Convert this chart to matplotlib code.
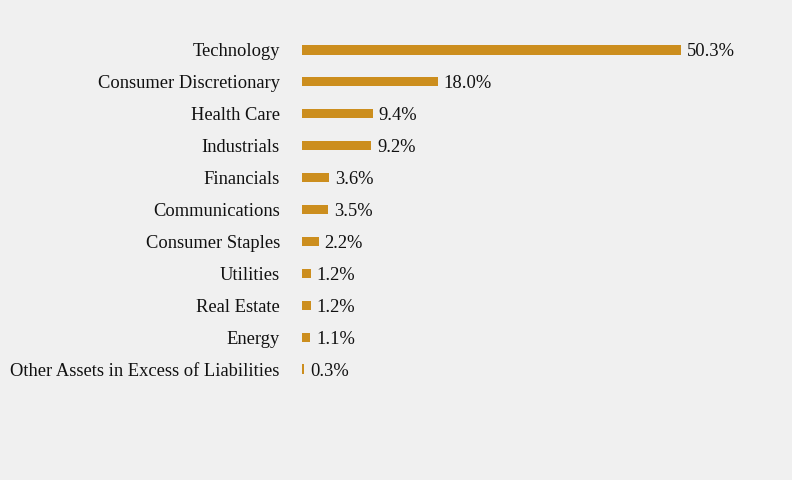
import matplotlib
matplotlib.use("Agg")
import matplotlib.pyplot as plt

categories = ["Technology", "Consumer Discretionary", "Health Care", "Industrials",
              "Financials", "Communications", "Consumer Staples", "Utilities",
              "Real Estate", "Energy", "Other Assets in Excess of Liabilities"]
values = [50.3, 18.0, 9.4, 9.2, 3.6, 3.5, 2.2, 1.2, 1.2, 1.1, 0.3]
value_labels = ["50.3%", "18.0%", "9.4%", "9.2%", "3.6%", "3.5%", "2.2%", "1.2%", "1.2%", "1.1%", "0.3%"]

plt.rcParams['font.family'] = ['Liberation Serif', 'DejaVu Serif']
bg = "#f0f0f0"
color = "#cc8e1e"

fig = plt.figure(figsize=(7.92, 4.8), dpi=100, facecolor=bg)
ax = fig.add_axes([302/792, 1 - 385/480, 468/792, 351/480])
ax.set_facecolor(bg)
y = list(range(len(categories)))
ax.barh(y, values, height=0.29, color=color)
ax.set_ylim(len(categories) - 0.5, -0.5)
ax.set_xlim(0, 50.3 * 468 / 379)
for yi, v, lab in zip(y, values, value_labels):
    ax.annotate(lab, (v, yi), xytext=(4, 0), textcoords="offset points",
                va="center_baseline", ha="left", fontsize=13.3, color="#111111")
ax.set_yticks(y)
ax.set_yticklabels(categories, fontsize=13.3, color="#111111", va="center_baseline")
ax.tick_params(axis="y", length=0, pad=16)
ax.set_xticks([])
for s in ax.spines.values():
    s.set_visible(False)
fig.savefig("out.png", dpi=100, facecolor=bg)
